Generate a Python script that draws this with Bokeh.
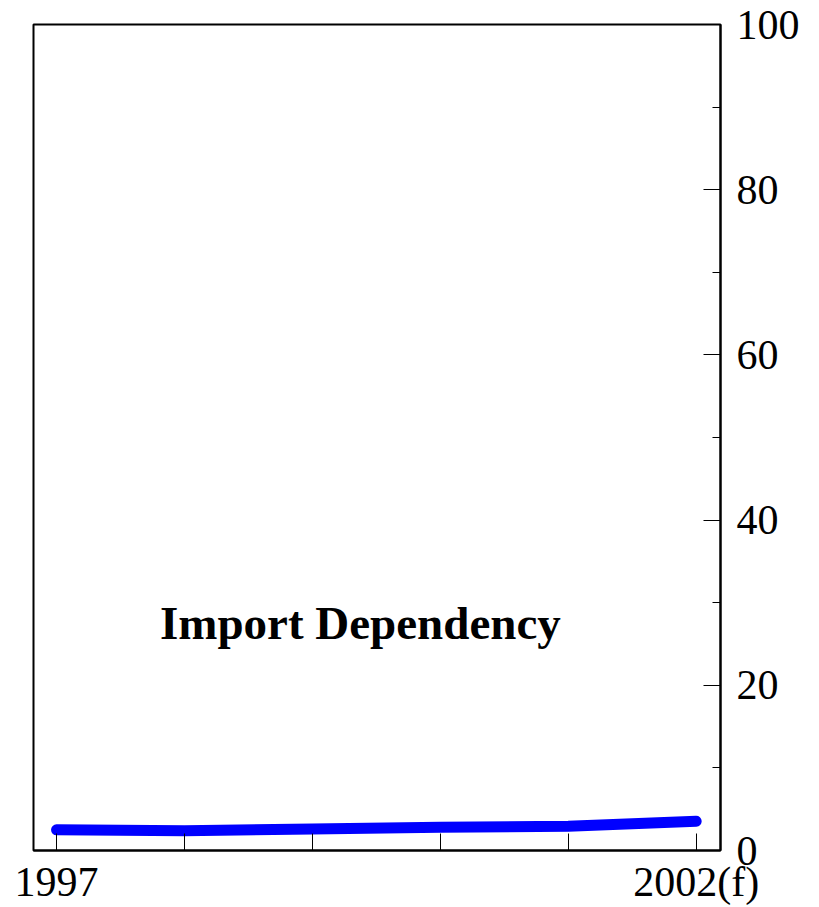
from bokeh.plotting import figure
from bokeh.models import FixedTicker, Label, Range1d
from bokeh.embed import file_html
from bokeh.resources import INLINE

years = ["1997", "1998", "1999", "2000", "2001", "2002(f)"]
import_dependency = [2.5, 2.4, 2.6, 2.8, 2.95, 3.55]
y_ticks = [0, 20, 40, 60, 80, 100]
y_minor = [10, 30, 50, 70, 90]
shown_x_labels = {0: "1997", 5: "2002(f)"}

FONT = "Liberation Serif"

p = figure(frame_width=687, frame_height=826, output_backend="svg",
           toolbar_location=None, x_range=Range1d(-0.18, 5.19),
           y_range=Range1d(0, 100), y_axis_location="right")
p.min_border_left = 33
p.min_border_top = 24
p.min_border_bottom = 0
p.min_border_right = 0
p.background_fill_color = "white"
p.border_fill_color = "white"
p.outline_line_color = "black"
p.outline_line_width = 2
p.grid.visible = False

xs = list(range(len(years)))
p.line(xs, import_dependency, line_color="#0000FF", line_width=11, line_cap="round", line_join="round")

xa = p.xaxis[0]
xa.ticker = FixedTicker(ticks=xs)
xa.major_label_overrides = {i: shown_x_labels.get(i, "") for i in xs}
xa.major_tick_in = 17
xa.major_tick_out = 0
xa.minor_tick_in = 0
xa.minor_tick_out = 0
xa.major_label_standoff = 8
xa.major_label_text_font = FONT
xa.major_label_text_font_size = "42px"
xa.major_label_text_color = "black"
xa.axis_line_color = "black"
xa.axis_line_width = 2
xa.major_tick_line_color = "black"

ya = p.yaxis[0]
ya.ticker = FixedTicker(ticks=y_ticks, minor_ticks=y_minor)
ya.major_tick_in = 17
ya.major_tick_out = 0
ya.minor_tick_in = 8
ya.minor_tick_out = 0
ya.major_label_standoff = 16
ya.major_label_text_font = FONT
ya.major_label_text_font_size = "42px"
ya.major_label_text_color = "black"
ya.axis_line_color = "black"
ya.axis_line_width = 2
ya.major_tick_line_color = "black"
ya.minor_tick_line_color = "black"

p.add_layout(Label(x=2.375, y=27.6, text="Import Dependency", text_align="center",
                   text_baseline="middle", text_font=FONT, text_font_style="bold",
                   text_font_size="47px", text_color="black"))

open("out.html", "w").write(file_html(p, INLINE))
